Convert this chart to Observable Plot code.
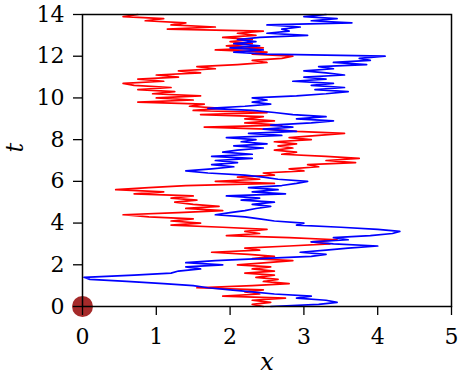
<!DOCTYPE html>
<html><head><meta charset="utf-8">
<script src="https://cdn.jsdelivr.net/npm/d3@7"></script>
<script src="https://cdn.jsdelivr.net/npm/@observablehq/plot@0.6"></script>
<style>
body{margin:0;background:#fff}
#chart{width:462px;height:386px}
#chart svg, #chart svg text{font-family:"DejaVu Serif",serif !important}
</style>
</head><body><div id="chart"></div>
<script>
// sampling step of the time axis t (one x value per step, t = 0 .. 14)
const tStep = 0.1;
const xTicks = [0, 1, 2, 3, 4, 5];
const tTicks = [0, 2, 4, 6, 8, 10, 12, 14];

// red path: x position at t = 0.0, 0.1, ..., 14.0
const redX = [
  2.45, 2.3, 2.55, 2.3, 2.75, 1.9, 2.4, 2.2, 2.45, 1.55,
  2.3, 2.8, 2.45, 2.65, 2.35, 2.6, 2.2, 2.6, 2.3, 2.55,
  2.1, 2.5, 2.85, 2.3, 2.6, 2.25, 1.75, 2.4, 2.2, 2.8,
  3.35, 3.1, 3.45, 2.8, 1.95, 2.4, 2.2, 2.5, 1.9, 1.2,
  1.6, 1.2, 1.5, 0.9, 0.55, 1.3, 1.9, 1.4, 1.85, 1.5,
  1.25, 1.55, 1.2, 1.5, 0.7, 1.1, 0.45, 0.9, 1.4, 2.6,
  1.8, 2.4, 2.1, 2.6, 2.45, 3.0, 2.8, 3.2, 3.05, 3.7,
  3.3, 3.75, 3.3, 2.7, 2.9, 2.6, 2.85, 2.65, 2.9, 2.6,
  3.1, 2.8, 3.2, 3.55, 2.9, 2.5, 1.65, 2.7, 2.2, 2.6,
  2.2, 2.45, 1.6, 2.5, 1.5, 1.9, 1.45, 1.65, 0.75, 1.5,
  1.0, 1.6, 0.95, 1.25, 0.75, 1.2, 0.7, 0.55, 1.1, 0.75,
  1.3, 1.0, 1.6, 1.3, 1.8, 1.55, 2.1, 2.5, 2.3, 2.7,
  2.85, 2.3, 2.5, 1.8, 2.45, 1.95, 2.3, 2.0, 2.3, 1.9,
  2.35, 2.1, 2.45, 1.15, 1.8, 1.2, 1.4, 0.85, 1.1, 0.55,
  0.75
];

// blue path: x position at t = 0.0, 0.1, ..., 14.0
const blueX = [
  2.55, 3.2, 3.45, 3.3, 2.9, 3.1, 2.6, 2.3, 2.0, 1.7,
  1.5, 1.1, 0.6, 0.1, 0.02, 0.7, 1.2, 1.3, 1.6, 1.4,
  1.9, 1.4, 1.8, 2.4, 3.1, 3.3, 2.95, 3.3, 3.6, 4.0,
  3.4, 3.1, 3.6, 3.4, 3.9, 4.2, 4.3, 4.0, 3.5, 2.9,
  3.0, 2.6, 2.4, 2.2, 1.8, 2.0, 2.2, 2.35, 2.55, 2.3,
  2.6, 2.15, 2.4, 1.95, 2.75, 2.3, 2.65, 2.25, 2.7, 2.9,
  3.05, 2.65, 2.45, 2.2, 1.7, 1.4, 1.75, 2.05, 1.75, 2.1,
  1.8, 2.3, 1.75, 2.3, 1.9, 2.1, 2.45, 2.05, 2.5, 2.15,
  2.35, 1.95, 2.7, 2.25, 2.9, 2.45, 2.85, 2.55, 3.1, 3.4,
  2.9, 3.3, 2.85, 2.6, 2.3, 1.7, 2.2, 2.55, 2.3, 2.5,
  2.3, 2.9, 3.3, 3.6, 3.15, 3.55, 3.1, 3.4, 2.85, 3.3,
  3.0, 3.55, 3.3, 3.0, 3.4, 3.2, 3.85, 3.4, 3.9, 3.75,
  4.1, 2.5, 2.05, 2.45, 2.0, 2.4, 2.05, 2.35, 2.1, 2.4,
  3.05, 2.5, 2.8, 2.7, 2.95, 2.5, 3.65, 3.1, 3.45, 3.0,
  3.3
];

// starting point marker
const originX = [0];
const originT = [0];

const toRows = (xs) => xs.map((x, i) => ({x, t: Math.round(i * tStep * 100) / 100}));
const red = toRows(redX);
const blue = toRows(blueX);
const origin = originX.map((x, i) => ({x, t: originT[i]}));

const fontFamily = "DejaVu Serif";

const chart = Plot.plot({
  width: 462,
  height: 386,
  marginLeft: 82,
  marginRight: 11,
  marginTop: 14,
  marginBottom: 80,
  style: {fontFamily, fontSize: "22px", color: "black", background: "white", overflow: "visible"},
  x: {domain: [0, 5]},
  y: {domain: [0, 14]},
  marks: [
    Plot.line(red, {x: "x", y: "t", stroke: "#ff0000", strokeWidth: 1.7}),
    Plot.line(blue, {x: "x", y: "t", stroke: "#0000ff", strokeWidth: 1.7}),
    Plot.dot(origin, {x: "x", y: "t", r: 10.5, fill: "#a52a2a", stroke: null}),
    Plot.frame({stroke: "black", strokeWidth: 1.5}),
    Plot.axisX({ticks: xTicks, tickFormat: d3.format("d"), tickSize: 9, tickPadding: 13, label: null, fontSize: 22, fontFamily, strokeWidth: 1.3}),
    Plot.axisY({ticks: tTicks, tickFormat: d3.format("d"), tickSize: 9, tickPadding: 9, label: null, fontSize: 22, fontFamily, strokeWidth: 1.3}),
    Plot.text(["x"], {text: d => d, frameAnchor: "bottom", dy: 63, fontStyle: "italic", fontSize: 24, fontFamily}),
    Plot.text(["t"], {text: d => d, frameAnchor: "left", dx: -67, dy: -8, rotate: -90, fontStyle: "italic", fontSize: 24, fontFamily})
  ]
});
document.getElementById("chart").appendChild(chart);
</script>
</body></html>
